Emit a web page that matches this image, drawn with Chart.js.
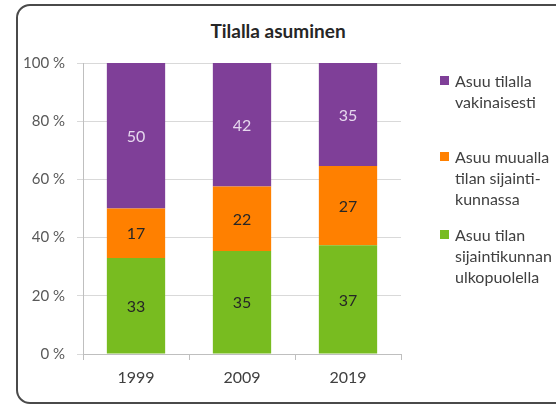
<!DOCTYPE html>
<html>
<head>
<meta charset="utf-8">
<script src="https://cdn.jsdelivr.net/npm/chart.js@4"></script>
<style>
  body { margin: 0; background: #fff; }
  #wrap { position: relative; width: 556px; height: 404px; overflow: hidden; font-family: Lato, "Open Sans", sans-serif; }
  #frame { position: absolute; left: 16px; top: 4px; width: 620px; height: 396px; border: 2px solid #4a4a4a; border-radius: 14px; }
  #title { position: absolute; left: 0; width: 556px; top: 19px; text-align: center; font-weight: bold; font-size: 19px; color: #262626; }
  #chartBox { position: absolute; left: 0; top: 0; width: 556px; height: 404px; }
  #legend { position: absolute; left: 440px; top: 70px; font-size: 16px; color: #404040; line-height: 21px; white-space: nowrap; }
  .item { position: relative; padding-left: 15px; }
  .sw { position: absolute; left: 0; top: 6px; width: 9px; height: 9px; }
</style>
</head>
<body>
<div id="wrap">
  <div id="frame"></div>
  <div id="title">Tilalla asuminen</div>
  <div id="chartBox"><canvas id="c"></canvas></div>
  <div id="legend"></div>
</div>
<script>
// data (shares in %)
const years = ['1999', '2009', '2019'];
const outside = [33, 35, 37];      // Asuu tilan sijaintikunnan ulkopuolella
const sameMunicip = [17, 22, 27];  // Asuu muualla tilan sijaintikunnassa
const onFarm = [50, 42, 35];       // Asuu tilalla vakinaisesti
const yTicks = [0, 20, 40, 60, 80, 100];

const seriesNames = [
  ['Asuu tilan', 'sijaintikunnan', 'ulkopuolella'],
  ['Asuu muualla', 'tilan sijainti-', 'kunnassa'],
  ['Asuu tilalla', 'vakinaisesti']
];
const colors = ['#78bc20', '#ff8000', '#7f3f98'];
const labelColors = ['#262626', '#262626', '#e6d8ee'];
const raw = [outside, sameMunicip, onFarm];

// 100 % stacked: each column scaled to its own total
const totals = years.map((_, i) => raw.reduce((s, a) => s + a[i], 0));
const datasets = raw.map((arr, k) => ({
  label: seriesNames[k].join(' '),
  raw: arr,
  data: arr.map((v, i) => v / totals[i] * 100),
  backgroundColor: colors[k],
  borderWidth: 0,
  categoryPercentage: 1,
  barPercentage: 0.55
}));

// legend, top entry = last series
const legend = document.getElementById('legend');
const gaps = [0, 34, 15];
[2, 1, 0].forEach((k, n) => {
  const d = document.createElement('div');
  d.className = 'item';
  d.style.marginTop = gaps[n] + 'px';
  d.innerHTML = '<span class="sw" style="background:' + colors[k] + '"></span>' + seriesNames[k].join('<br>');
  legend.appendChild(d);
});

const valueLabels = {
  id: 'valueLabels',
  afterDatasetsDraw(chart) {
    const ctx = chart.ctx;
    ctx.save();
    ctx.font = '16px Lato, "Open Sans", sans-serif';
    ctx.textAlign = 'center';
    ctx.textBaseline = 'middle';
    chart.data.datasets.forEach((ds, k) => {
      chart.getDatasetMeta(k).data.forEach((bar, i) => {
        ctx.fillStyle = labelColors[k];
        ctx.fillText(ds.raw[i], bar.x, (bar.y + bar.base) / 2 + 1);
      });
    });
    ctx.restore();
  }
};

new Chart(document.getElementById('c'), {
  type: 'bar',
  data: { labels: years, datasets: datasets },
  options: {
    responsive: true,
    maintainAspectRatio: false,
    animation: false,
    layout: { padding: { left: 16, right: 155, top: 63, bottom: 0 } },
    plugins: { legend: { display: false }, title: { display: false }, tooltip: { enabled: false } },
    scales: {
      x: {
        stacked: true,
        afterFit: (s) => { s.height = 50; },
        grid: { drawOnChartArea: false, drawTicks: true, tickLength: 6, color: '#bfbfbf', offset: true },
        border: { color: '#bfbfbf' },
        ticks: { color: '#404040', padding: 8, font: { family: 'Lato', size: 16 } }
      },
      y: {
        stacked: true,
        min: 0,
        max: 100,
        afterFit: (s) => { s.width = 67; },
        afterBuildTicks: (s) => { s.ticks = yTicks.map(v => ({ value: v })); },
        grid: { color: '#d9d9d9', tickLength: 6 },
        border: { color: '#bfbfbf' },
        ticks: { color: '#595959', padding: 12, font: { family: 'Lato', size: 15 }, callback: (v) => v + ' %' }
      }
    }
  },
  plugins: [valueLabels]
});
</script>
</body>
</html>
